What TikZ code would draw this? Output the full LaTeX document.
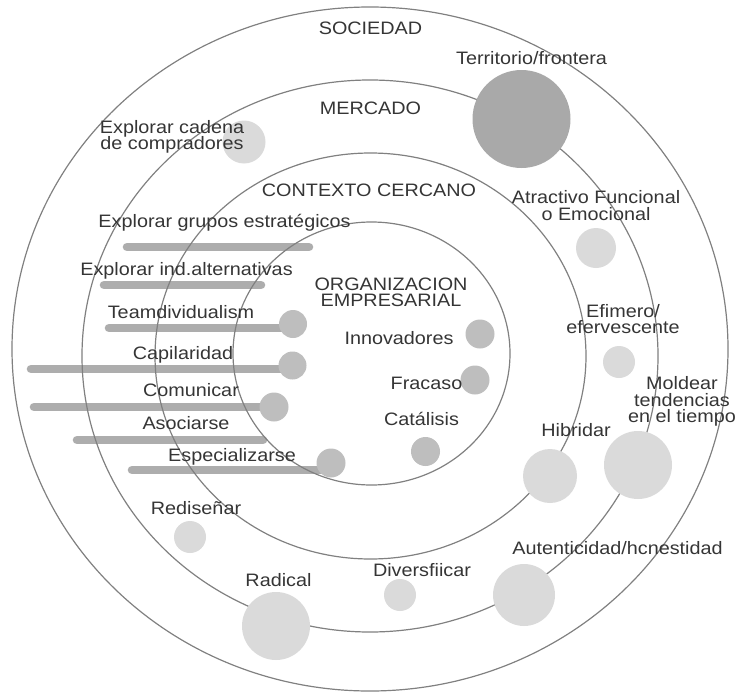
\documentclass[tikz,border=0pt]{standalone}
\usepackage{fontspec}
\setmainfont{Liberation Sans}[FakeStretch=1.1]
\definecolor{ringc}{HTML}{808080}
\definecolor{txt}{HTML}{353535}
\definecolor{lightb}{HTML}{DADADA}
\definecolor{midb}{HTML}{BEBEBE}
\definecolor{darkb}{HTML}{A9A9A9}
\definecolor{barc}{HTML}{ADADAD}
\newcommand\lsfont[1]{\fontsize{13.5}{#1}\selectfont\lineskiplimit -100pt\relax}
\tikzset{
  ring/.style={draw=ringc, line width=0.9pt},
  bar/.style={draw=barc, line width=6.4pt, line cap=round},
  bubble/.style={circle, inner sep=0pt, draw=none, minimum size=#1*1.5pt},
  lb/.style={bubble=#1, fill=lightb},
  mb/.style={bubble=#1, fill=midb},
  db/.style={bubble=#1, fill=darkb},
  lab/.style={font=\lsfont{12.4}, text=txt, inner sep=0pt, align=center, anchor=north},
}
\begin{document}
\begin{tikzpicture}[x=0.75pt, y=-0.75pt]
\useasboundingbox (0,0) rectangle (738,692);
% bar end points
\coordinate (egrA) at (127,247);
\coordinate (egrB) at (309,247);
\coordinate (eiaA) at (104,285);
\coordinate (eiaB) at (261,285);
\coordinate (tmA) at (109,328);
\coordinate (tmB) at (285,328);
\coordinate (cpA) at (31,369);
\coordinate (cpB) at (285,369);
\coordinate (coA) at (34,407);
\coordinate (coB) at (268,407);
\coordinate (asA) at (77,440);
\coordinate (asB) at (263,440);
\coordinate (esA) at (132,470);
\coordinate (esB) at (325,470);
% bars
\draw[bar] (egrA) -- (egrB);
\draw[bar] (eiaA) -- (eiaB);
\draw[bar] (tmA) -- (tmB);
\draw[bar] (cpA) -- (cpB);
\draw[bar] (coA) -- (coB);
\draw[bar] (asA) -- (asB);
\draw[bar] (esA) -- (esB);
% rings
\draw[ring] (370,349) ellipse [x radius=358, y radius=342];
\draw[ring] (370,356) ellipse [x radius=288, y radius=276];
\draw[ring] (370.5,356) ellipse [x radius=215.5, y radius=203];
\draw[ring] (371.5,353.5) ellipse [x radius=138.5, y radius=131.5];
% bubbles
\node[db=49] (tf) at (521.5,119) {};
\node[lb=21.5] (ec) at (244,142) {};
\node[lb=20] (at) at (596,248) {};
\node[lb=16] (ef) at (619,362) {};
\node[lb=34] (mo) at (638,465) {};
\node[lb=27] (hi) at (550,476) {};
\node[lb=31] (au) at (524,595) {};
\node[lb=16] (di) at (400,595) {};
\node[lb=34] (ra) at (276,626) {};
\node[lb=16] (re) at (190,537) {};
\node[mb=14.5] (in) at (480,334) {};
\node[mb=14.5] (fr) at (475,380) {};
\node[mb=14.5] (ca) at (425.5,451.5) {};
\node[mb=14] (tm) at (293,324) {};
\node[mb=14] (cp) at (292.5,365.5) {};
\node[mb=14.5] (co) at (274,407) {};
\node[mb=14.5] (es) at (331,463) {};
% labels
\node[lab] (tSoc) at (370.5,21.5) {SOCIEDAD};
\node[lab] (tMer) at (370.5,101.5) {MERCADO};
\node[lab] (tCon) at (369,183.5) {CONTEXTO CERCANO};
\node[lab] (tTer) at (531.5,51.5) {Territorio/frontera};
\node[lab] (tEc) at (172,120) {Explorar cadena\\de compradores};
\node[lab] (tAt) at (596,190.5) {Atractivo Funcional\\o Emocional};
\node[lab] (tEgr) at (224.5,213.5) {Explorar grupos estratégicos};
\node[lab] (tEia) at (186.5,262.5) {Explorar ind.alternativas};
\node[lab, font=\lsfont{11.9}] (tOrg) at (391,278) {ORGANIZACION\\EMPRESARIAL};
\node[lab] (tTm) at (181,305) {Teamdividualism};
\node[lab] (tEf) at (623,304) {Efimero/\\efervescente};
\node[lab] (tIn) at (399,331.5) {Innovadores};
\node[lab] (tCp) at (183,346.5) {Capilaridad};
\node[lab] (tFr) at (426.5,376.5) {Fracaso};
\node[lab] (tCo) at (191,383.5) {Comunicar};
\node[lab] (tMo) at (682,376.5) {Moldear\\tendencias\\en el tiempo};
\node[lab] (tCa) at (421.5,411.5) {Catálisis};
\node[lab] (tAs) at (186,416.5) {Asociarse};
\node[lab] (tHi) at (576,423.5) {Hibridar};
\node[lab] (tEs) at (232,448.5) {Especializarse};
\node[lab] (tRe) at (196,501.5) {Rediseñar};
\node[lab] (tAu) at (617.5,541.5) {Autenticidad/hcnestidad};
\node[lab] (tDi) at (422,563.5) {Diversfiicar};
\node[lab] (tRa) at (278.5,573.5) {Radical};
\end{tikzpicture}
\end{document}
